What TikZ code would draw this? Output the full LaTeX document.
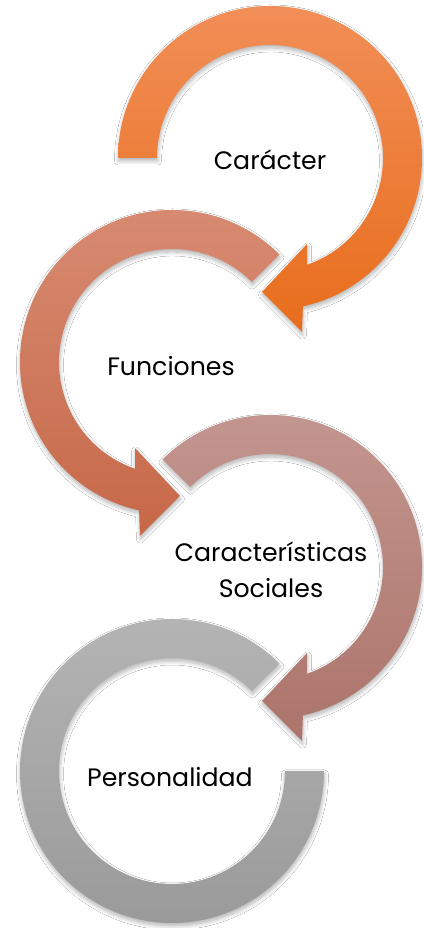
\documentclass[tikz,border=0pt]{standalone}
\usepackage{fontspec}
\setmainfont{Poppins}
\usetikzlibrary{shadows.blur}
\definecolor{c1top}{HTML}{F18E57}
\definecolor{c1bot}{HTML}{E86D1C}
\definecolor{c2top}{HTML}{D88C73}
\definecolor{c2bot}{HTML}{C66848}
\definecolor{c3top}{HTML}{C39790}
\definecolor{c3bot}{HTML}{AC746B}
\definecolor{c4top}{HTML}{B5B5B5}
\definecolor{c4bot}{HTML}{999999}
\begin{document}
\begin{tikzpicture}[x=1pt,y=1pt]
\tikzset{
  ring/.style={blur shadow={shadow xshift=0.5pt, shadow yshift=-3pt, shadow blur radius=4pt, shadow blur steps=8, shadow opacity=30}},
  lbl/.style={font=\fontsize{25.2}{36}\selectfont, text=black, align=center, inner sep=0pt}
}
\useasboundingbox (0,0) rectangle (423,928);
\fill[white] (0,0) rectangle (423,928);
% circle 4 (grey)
\begin{scope}[shift={(172,157)}]
  \path[ring, top color=c4top, bottom color=c4bot]
    (45:152) arc[start angle=45, end angle=360, radius=152]
    -- (0:113) arc[start angle=360, end angle=45, radius=113] -- cycle;
\end{scope}
% circle 3
\begin{scope}[shift={(270,361)}]
  \path[ring, top color=c3top, bottom color=c3bot]
    (135:152) arc[start angle=135, end angle=-77.5, radius=152]
    -- (32,-174) -- (-8,-134) -- (37,-86)
    -- (-70.9:113) arc[start angle=-70.9, end angle=135, radius=113] -- cycle;
\end{scope}
% circle 2
\begin{scope}[shift={(172,566)}]
  \path[ring, top color=c2top, bottom color=c2bot]
    (45:152) arc[start angle=45, end angle=257.5, radius=152]
    -- (-32,-174) -- (8,-134) -- (-37,-86)
    -- (250.9:113) arc[start angle=250.9, end angle=45, radius=113] -- cycle;
\end{scope}
% circle 1
\begin{scope}[shift={(270,770)}]
  \path[ring, top color=c1top, bottom color=c1bot]
    (180:152) arc[start angle=180, end angle=-77.5, radius=152]
    -- (32,-174) -- (-8,-134) -- (37,-86)
    -- (-70.9:113) arc[start angle=-70.9, end angle=180, radius=113] -- cycle;
\end{scope}
\node[lbl] (caracter) at (270,768) {Carácter};
\node[lbl] (funciones) at (171,562) {Funciones};
\node[lbl] (sociales) at (271,358) {Características\\Sociales};
\node[lbl] (personalidad) at (170,151) {Personalidad};
\end{tikzpicture}
\end{document}
